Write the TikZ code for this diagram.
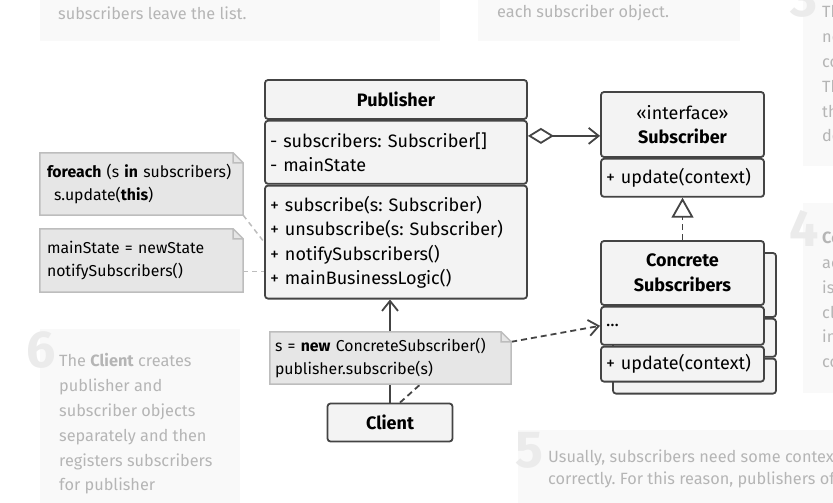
\documentclass[tikz,border=0pt]{standalone}
\usepackage{fontspec}
\setmainfont{Fira Sans}
\usetikzlibrary{arrows.meta,positioning}

\definecolor{umlline}{HTML}{444444}
\definecolor{umlfill}{HTML}{F3F3F3}
\definecolor{notefill}{HTML}{E6E6E6}
\definecolor{noteline}{HTML}{BDBDBD}
\definecolor{bgfill}{HTML}{F9F9F9}
\definecolor{bgtext}{HTML}{B5B5B5}
\definecolor{bgdigit}{HTML}{EBEBEB}

\begin{document}
\frenchspacing\hyphenpenalty=10000
\begin{tikzpicture}[x=1pt,y=-1pt,>={Straight Barb[length=10pt,width=16pt]},
     box/.style={draw=umlline,fill=umlfill,line width=1.8pt,rounded corners=3pt,
                 inner xsep=5pt,inner ysep=0pt,align=left,
                 font=\fontsize{18}{24.5}\selectfont},
     head/.style={box,align=center,font=\fontsize{18}{24.5}\selectfont\bfseries},
     note/.style={fill=notefill,inner xsep=7pt,inner ysep=0pt,align=left,
                  font=\fontsize{15.8}{22.5}\selectfont},
     noteedge/.style={draw=noteline,line width=1.5pt},
     bgtxt/.style={text=bgtext,align=left,anchor=west,inner sep=0pt,
                   font=\fontsize{16.3}{24.8}\selectfont},
     digit/.style={text=bgdigit,inner sep=0pt,font=\fontsize{52}{52}\selectfont\bfseries},
     link/.style={umlline,line width=1.8pt},
     hint/.style={noteline,line width=1.5pt,dash pattern=on 5pt off 4pt}]
     \useasboundingbox (0,0) rectangle (833,503);
     \clip (0,0) rectangle (833,503);
     % faded panels round the diagram
     \fill[bgfill] (40,-5) rectangle (440,41);
     \fill[bgfill] (478,-5) rectangle (740,41);
     \fill[bgfill] (803,-5) rectangle (840,166);
     \fill[bgfill] (803,203) rectangle (840,393);
     \fill[bgfill] (40,329) rectangle (240,510);
     \fill[bgfill] (518,430) rectangle (840,510);
     \node[digit] (d3) at (804,-1) {3};
     \node[digit] (d4) at (804,228) {4};
     \node[digit] (d6) at (41,350) {6};
     \node[digit] (d5) at (529,450) {5};
     \node[bgtxt] (t1) at (58,13) {subscribers leave the list.};
     \node[bgtxt] (t2) at (497,13) {each subscriber object.};
     \node[bgtxt] (t3) at (822,74) {Th\\ne\\co\\Th\\th\\de};
     \node[bgtxt] (t4) at (822,300) {\textbf{Co}\\ac\\is\\cl\\in\\co};
     \node[bgtxt] (t6) at (59,424) {The \textbf{Client} creates\\publisher and\\subscriber objects\\separately and then\\registers subscribers\\for publisher};
     \node[bgtxt,font=\fontsize{16.3}{22}\selectfont] (t5) at (548,469) {Usually, subscribers need some context\\correctly. For this reason, publishers of};

     % classes
     \node[head,text width=252pt,minimum height=39pt] (ph) at (396,99.5) {Publisher};
     \node[box,text width=252pt,minimum height=63pt,below=0pt of ph] (pa) {- subscribers: Subscriber[]\\- mainState};
     \node[box,text width=252pt,minimum height=113pt,below=0pt of pa] (pm) {+ subscribe(s: Subscriber)\\+ unsubscribe(s: Subscriber)\\+ notifySubscribers()\\+ mainBusinessLogic()};

     \node[box,align=center,text width=153pt,minimum height=65pt] (sh) at (682.5,124.5) {«interface»\\\textbf{Subscriber}};
     \node[box,text width=153pt,minimum height=38pt,below=0pt of sh] (sm) {+ update(context)};

     \node[head,text width=153pt,minimum height=64pt] (cb) at (694.5,285) {};
     \node[box,text width=153pt,minimum height=38pt,below=0pt of cb] (cb2) {};
     \node[box,text width=153pt,minimum height=35pt,below=0pt of cb2] (cb3) {};
     \node[head,text width=153pt,minimum height=64pt] (ch) at (682.5,273) {Concrete\\Subscribers};
     \node[box,text width=153pt,minimum height=38pt,below=0pt of ch] (cd) {...};
     \node[box,text width=153pt,minimum height=35pt,below=0pt of cd] (cm) {+ update(context)};

     \node[head,minimum width=125pt,minimum height=38pt] (cl) at (390,422.5) {Client};

     % notes
     \node[note,text width=189pt,minimum height=62pt] (fe) at (141.5,184) {\textbf{foreach} (s \textbf{in} subscribers)\\\hspace*{7pt}s.update(\textbf{this})};
     \node[note,text width=189pt,minimum height=63pt] (ms) at (141.5,260.5) {mainState = newState\\notifySubscribers()};

     \coordinate (ag) at ([yshift=-16pt]pa.north east);
     \coordinate (mb) at ([yshift=-11pt]ms.east);
     \draw[link,{Diamond[open,length=26pt,width=16pt]}->] (ag) -- (ag -| sh.west);
     \draw[link,dash pattern=on 6pt off 4pt,-{Triangle[open,length=20pt,width=22pt]}] (ch) -- (sm);
     \draw[link,->] (cl) -- (cl |- pm.south);
     \draw[hint] (fe.south east) -- (pm.west);
     \draw[hint] (mb) -- (mb -| pm.west);

     \node[note,inner xsep=5pt,text width=231pt,minimum height=52pt] (cn) at (390.5,358) {s = \textbf{new} ConcreteSubscriber()\\publisher.subscribe(s)};
     \draw[link,dash pattern=on 6pt off 4pt] ([xshift=10pt]cl.north) -- ([xshift=30pt]cn.south);
     \draw[link,dash pattern=on 6pt off 4pt,->] ([yshift=-10pt]cn.north east) -- (cd.west);

     \foreach \n in {fe,ms,cn}{
       \fill[white] ([xshift=-10pt]\n.north east) -- (\n.north east) -- ([yshift=-10pt]\n.north east) -- cycle;
       \draw[noteedge] (\n.south west) -- (\n.north west) -- ([xshift=-10pt]\n.north east)
          -- ([yshift=-10pt]\n.north east) -- (\n.south east) -- cycle
          ([xshift=-10pt]\n.north east) |- ([yshift=-10pt]\n.north east);
     }
\end{tikzpicture}
\end{document}
